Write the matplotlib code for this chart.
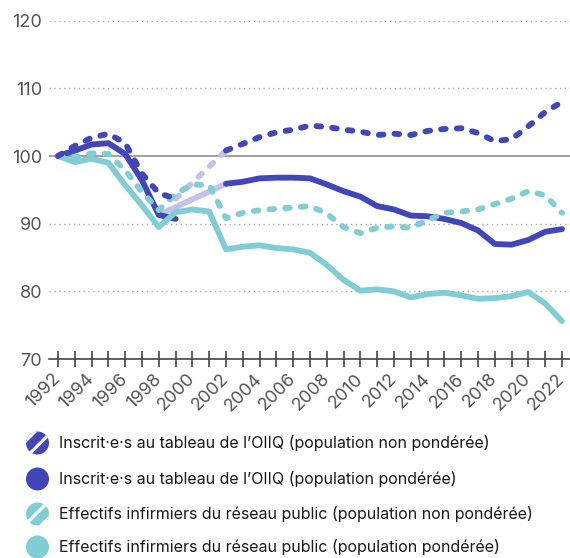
import numpy as np
import matplotlib
matplotlib.use('Agg')
import matplotlib.pyplot as plt
from matplotlib.patches import Circle

plt.rcParams['font.family'] = ['Inter', 'DejaVu Sans']

years = np.arange(1992, 2023)
nan = np.nan

# Inscrit·e·s au tableau de l'OIIQ (population non pondérée)
oiiq_brut = [100.0, 101.5, 102.7, 103.3, 101.9, 97.4, 94.5, 93.7, nan, nan,
             100.8, 101.8, 102.8, 103.5, 103.9, 104.5, 104.3, 103.9, 103.6, 103.1,
             103.3, 103.1, 103.7, 104.0, 104.1, 103.4, 102.2, 102.5, 104.4, 106.5,
             108.0]
# Inscrit·e·s au tableau de l'OIIQ (population pondérée)
oiiq_pond = [100.0, 100.8, 101.7, 101.9, 100.3, 96.4, 91.3, 90.7, nan, nan,
             95.9, 96.2, 96.7, 96.8, 96.8, 96.7, 95.8, 94.8, 94.0, 92.6,
             92.1, 91.2, 91.1, 90.7, 90.1, 89.0, 87.0, 86.9, 87.6, 88.8,
             89.2]
# Effectifs infirmiers du réseau public (population non pondérée)
reseau_brut = [100.0, 99.8, 100.4, 100.3, 97.9, 94.7, 92.0, 94.4, 95.8, 95.7,
               90.8, 91.6, 92.0, 92.2, 92.4, 92.6, 91.5, 89.5, 88.6, 89.4,
               89.6, 89.4, 90.5, 91.6, 91.8, 92.1, 92.9, 93.7, 94.8, 94.2,
               91.6]
# Effectifs infirmiers du réseau public (population pondérée)
reseau_pond = [100.0, 99.1, 99.6, 99.0, 95.7, 92.7, 89.5, 91.7, 92.1, 91.8,
               86.2, 86.6, 86.8, 86.4, 86.2, 85.7, 83.9, 81.7, 80.1, 80.3,
               80.0, 79.1, 79.6, 79.8, 79.4, 78.9, 79.0, 79.3, 79.9, 78.2,
               75.6]

labels = [
    "Inscrit·e·s au tableau de l’OIIQ (population non pondérée)",
    "Inscrit·e·s au tableau de l’OIIQ (population pondérée)",
    "Effectifs infirmiers du réseau public (population non pondérée)",
    "Effectifs infirmiers du réseau public (population pondérée)",
]

BLUE = '#4146b9'
CYAN = '#80ced3'
LAV = '#c3c2ea'
GREY = '#555555'


def main():
    fig = plt.figure(figsize=(5.70, 5.58), dpi=100)
    ax = fig.add_axes([49 / 570, 1 - 359 / 558, 521 / 570, 338.3 / 558])

    ob = np.array(oiiq_brut)
    op = np.array(oiiq_pond)
    lw = 4.2
    dash = (0.8, 1.9)

    # lavender bridges over the missing years
    ax.plot([1999, 2002], [ob[7], ob[10]], color=LAV, lw=lw, dashes=dash,
            dash_capstyle='round', solid_capstyle='round')
    ax.plot([1998, 2002], [op[6], op[10]], color=LAV, lw=lw,
            solid_capstyle='round')

    ax.plot(years, op, color=BLUE, lw=lw, solid_capstyle='round',
            solid_joinstyle='round')
    ax.plot(years, reseau_pond, color=CYAN, lw=lw, solid_capstyle='round',
            solid_joinstyle='round')
    ax.plot(years, reseau_brut, color=CYAN, lw=lw, dashes=dash,
            dash_capstyle='round')
    ax.plot(years, ob, color=BLUE, lw=lw, dashes=dash, dash_capstyle='round')

    ax.set_xlim(1992 - 9 / 16.83, 2022 + 8 / 16.83)
    ax.set_ylim(70, 120)

    for v in [80, 90, 110, 120]:
        ax.axhline(v, color='#aaaaaa', lw=1, ls=(0, (1, 2.5)), zorder=0)
    ax.axhline(100, color='#999999', lw=1.3, zorder=0)

    for s in ['top', 'right', 'left']:
        ax.spines[s].set_visible(False)
    ax.spines['bottom'].set_color('#444444')
    ax.spines['bottom'].set_linewidth(1.2)

    ax.set_yticks([70, 80, 90, 100, 110, 120])
    ax.tick_params(axis='y', length=0, pad=5, labelsize=13, labelcolor=GREY)
    ax.set_xticks(years)
    ax.set_xticklabels([str(y) if y % 2 == 0 else '' for y in years],
                       rotation=45, ha='right', va='center',
                       rotation_mode='anchor')
    ax.tick_params(axis='x', direction='inout', length=11, width=1.2,
                   color='#444444', labelsize=13, labelcolor=GREY, pad=7)

    # legend drawn in pixel units
    lax = fig.add_axes([0, 0, 1, 130 / 558])
    lax.set_xlim(0, 570)
    lax.set_ylim(0, 130)
    lax.axis('off')
    plt.rcParams['hatch.linewidth'] = 2.3
    ys = [558 - 443, 558 - 479, 558 - 514, 558 - 547]
    colors = [BLUE, BLUE, CYAN, CYAN]
    hatched = [True, False, True, False]
    for y, c, h, lab in zip(ys, colors, hatched, labels):
        circ = Circle((37.5, y), 11.5, facecolor=c,
                      edgecolor='white' if h else c,
                      hatch='//' if h else None, lw=0)
        lax.add_patch(circ)
        lax.text(59, y, lab, va='center', ha='left', fontsize=11.5,
                 color='#1a1a1a')

    fig.savefig('out.png', dpi=100)


if __name__ == "__main__":
    main()
